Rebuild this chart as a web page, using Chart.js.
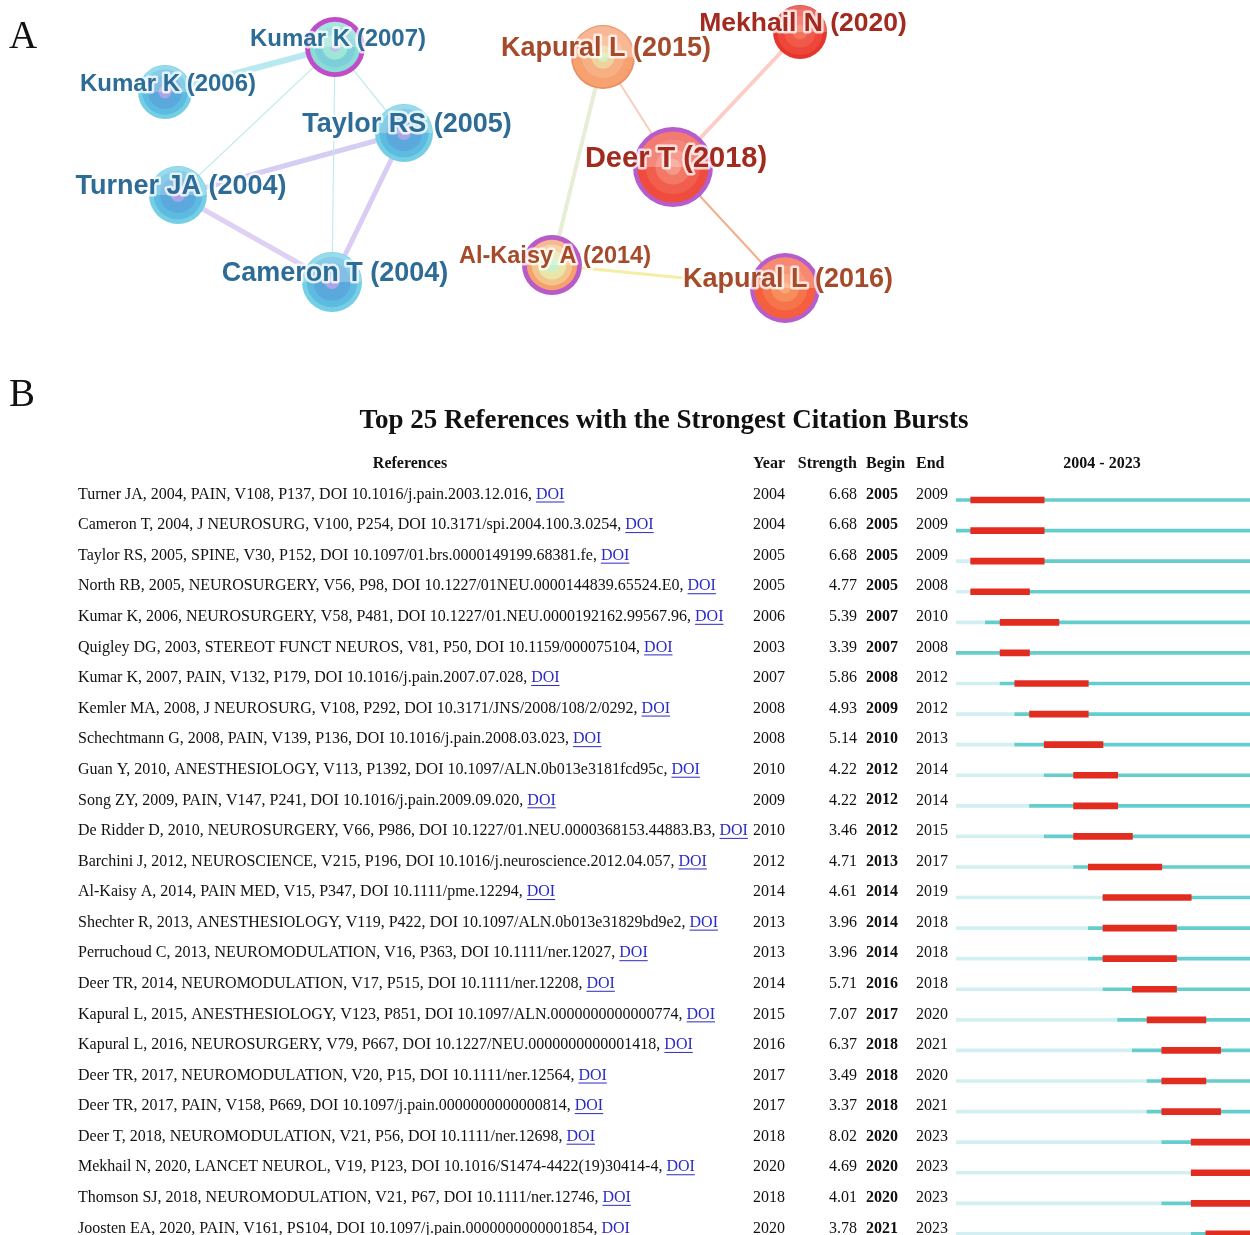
<!DOCTYPE html>
<html>
<head>
<meta charset="utf-8">
<script src="https://cdn.jsdelivr.net/npm/chart.js@4.4.1/dist/chart.umd.min.js"></script>
<style>
  html, body { margin: 0; padding: 0; background: #fff; }
  body { width: 1250px; height: 1235px; overflow: hidden; position: relative; }
  .panel-letter { position: absolute; font-family: "Liberation Serif", serif; font-size: 39px; color: #111; }
  #networkWrap { position: absolute; left: 0; top: 0; width: 1250px; height: 335px; }
  #burstWrap { position: absolute; left: 0; top: 0; width: 1250px; height: 1270px; }
</style>
</head>
<body>
<div id="burstWrap"><canvas id="burstChart"></canvas></div>
<div id="networkWrap"><canvas id="networkChart"></canvas></div>
<div class="panel-letter" style="left:9px; top:12px;">A</div>
<div class="panel-letter" style="left:9px; top:370px;">B</div>
<script>
// ---------- Panel A: co-citation network ----------
const nodeLabels = ['Kumar K (2007)', 'Kumar K (2006)', 'Taylor RS (2005)', 'Turner JA (2004)', 'Cameron T (2004)',
  'Kapural L (2015)', 'Mekhail N (2020)', 'Deer T (2018)', 'Al-Kaisy A (2014)', 'Kapural L (2016)'];
const nodeX = [335, 165, 404, 178, 332, 603, 800, 673, 552, 785];
const nodeY = [47, 92, 133, 195, 282, 57, 32, 167, 265, 288];
const nodeSize = [30, 27, 29, 29, 30, 32, 27, 40, 30, 35];
const edgeFrom = [0, 0, 0, 0, 2, 2, 3, 5, 5, 6, 7, 8];
const edgeTo = [1, 3, 4, 2, 3, 4, 4, 7, 8, 7, 9, 9];

// ---------- Panel B: citation bursts ----------
const refs = [
  'Turner JA, 2004, PAIN, V108, P137, DOI 10.1016/j.pain.2003.12.016',
  'Cameron T, 2004, J NEUROSURG, V100, P254, DOI 10.3171/spi.2004.100.3.0254',
  'Taylor RS, 2005, SPINE, V30, P152, DOI 10.1097/01.brs.0000149199.68381.fe',
  'North RB, 2005, NEUROSURGERY, V56, P98, DOI 10.1227/01NEU.0000144839.65524.E0',
  'Kumar K, 2006, NEUROSURGERY, V58, P481, DOI 10.1227/01.NEU.0000192162.99567.96',
  'Quigley DG, 2003, STEREOT FUNCT NEUROS, V81, P50, DOI 10.1159/000075104',
  'Kumar K, 2007, PAIN, V132, P179, DOI 10.1016/j.pain.2007.07.028',
  'Kemler MA, 2008, J NEUROSURG, V108, P292, DOI 10.3171/JNS/2008/108/2/0292',
  'Schechtmann G, 2008, PAIN, V139, P136, DOI 10.1016/j.pain.2008.03.023',
  'Guan Y, 2010, ANESTHESIOLOGY, V113, P1392, DOI 10.1097/ALN.0b013e3181fcd95c',
  'Song ZY, 2009, PAIN, V147, P241, DOI 10.1016/j.pain.2009.09.020',
  'De Ridder D, 2010, NEUROSURGERY, V66, P986, DOI 10.1227/01.NEU.0000368153.44883.B3',
  'Barchini J, 2012, NEUROSCIENCE, V215, P196, DOI 10.1016/j.neuroscience.2012.04.057',
  'Al-Kaisy A, 2014, PAIN MED, V15, P347, DOI 10.1111/pme.12294',
  'Shechter R, 2013, ANESTHESIOLOGY, V119, P422, DOI 10.1097/ALN.0b013e31829bd9e2',
  'Perruchoud C, 2013, NEUROMODULATION, V16, P363, DOI 10.1111/ner.12027',
  'Deer TR, 2014, NEUROMODULATION, V17, P515, DOI 10.1111/ner.12208',
  'Kapural L, 2015, ANESTHESIOLOGY, V123, P851, DOI 10.1097/ALN.0000000000000774',
  'Kapural L, 2016, NEUROSURGERY, V79, P667, DOI 10.1227/NEU.0000000000001418',
  'Deer TR, 2017, NEUROMODULATION, V20, P15, DOI 10.1111/ner.12564',
  'Deer TR, 2017, PAIN, V158, P669, DOI 10.1097/j.pain.0000000000000814',
  'Deer T, 2018, NEUROMODULATION, V21, P56, DOI 10.1111/ner.12698',
  'Mekhail N, 2020, LANCET NEUROL, V19, P123, DOI 10.1016/S1474-4422(19)30414-4',
  'Thomson SJ, 2018, NEUROMODULATION, V21, P67, DOI 10.1111/ner.12746',
  'Joosten EA, 2020, PAIN, V161, PS104, DOI 10.1097/j.pain.0000000000001854'
];
const years = [2004, 2004, 2005, 2005, 2006, 2003, 2007, 2008, 2008, 2010, 2009, 2010, 2012,
  2014, 2013, 2013, 2014, 2015, 2016, 2017, 2017, 2018, 2020, 2018, 2020];
const strength = [6.68, 6.68, 6.68, 4.77, 5.39, 3.39, 5.86, 4.93, 5.14, 4.22, 4.22, 3.46, 4.71,
  4.61, 3.96, 3.96, 5.71, 7.07, 6.37, 3.49, 3.37, 8.02, 4.69, 4.01, 3.78];
const begins = [2005, 2005, 2005, 2005, 2007, 2007, 2008, 2009, 2010, 2012, 2012, 2012, 2013,
  2014, 2014, 2014, 2016, 2017, 2018, 2018, 2018, 2020, 2020, 2020, 2021];
const ends = [2009, 2009, 2009, 2008, 2010, 2008, 2012, 2012, 2013, 2014, 2014, 2015, 2017,
  2019, 2018, 2018, 2018, 2020, 2021, 2020, 2021, 2023, 2023, 2023, 2023];
const firstYear = 2004;
const lastYear = 2023;

// node looks (outer ring -> centre)
const blueRings = { colors: ['#74cfe5', '#5dbae1', '#5aa8dc', '#a9a5e6'], stops: [1, 0.84, 0.62, 0.24] };
const nodeStyle = [
  { colors: ['#c04cc8', '#8adcd6', '#7ccfd9', '#9fe6d6', '#c3bbee'], stops: [1, 0.84, 0.68, 0.42, 0.16], text: '#2d6c96', ring: true },
  Object.assign({ text: '#2d6c96' }, blueRings),
  Object.assign({ text: '#2d6c96' }, blueRings),
  Object.assign({ text: '#2d6c96' }, blueRings),
  Object.assign({ text: '#2d6c96' }, blueRings),
  { colors: ['#e98d62', '#f7a070', '#f6b084', '#eed49c', '#d6eebc'], stops: [1, 0.95, 0.66, 0.36, 0.16], text: '#a54b2b' },
  { colors: ['#e5362c', '#ee463a', '#f15a48', '#f3735c'], stops: [1, 0.85, 0.58, 0.28], text: '#a22a1f' },
  { colors: ['#b65ccc', '#ef4c3e', '#f15e4e', '#f37866', '#f59886'], stops: [1, 0.89, 0.68, 0.44, 0.2], text: '#a22a1f', ring: true },
  { colors: ['#b85ac8', '#f6a06e', '#f3c48c', '#e9e6a8', '#c9f0c6'], stops: [1, 0.84, 0.68, 0.48, 0.24], text: '#a54b2b', ring: true },
  { colors: ['#b65ccc', '#f55f40', '#f6744c', '#f78c5c', '#f8a676'], stops: [1, 0.88, 0.64, 0.4, 0.16], text: '#a54b2b', ring: true }
];
const labelFont = [24, 24, 27, 27, 27, 27, 26.5, 29, 23.5, 27];
const edgeStyle = [
  ['rgba(160,226,236,0.75)', 6], ['#c4eaf0', 1.2], ['#c4eaf0', 1.2], ['#c4eaf0', 1.2],
  ['rgba(208,200,242,0.9)', 5], ['rgba(214,198,242,0.9)', 5], ['rgba(218,204,243,0.9)', 5],
  ['#f8cdbd', 2], ['#e6eed6', 4], ['#fbcdc4', 4], ['#f3ae88', 2], ['#f4efa2', 3]
];

const nodePoints = nodeLabels.map((label, i) => ({ x: nodeX[i], y: nodeY[i], r: nodeSize[i] }));

const edgeDatasets = edgeFrom.map((a, i) => ({
  type: 'line',
  data: [{ x: nodeX[a], y: nodeY[a] }, { x: nodeX[edgeTo[i]], y: nodeY[edgeTo[i]] }],
  borderColor: edgeStyle[i][0],
  borderWidth: edgeStyle[i][1],
  pointRadius: 0,
  showLine: true,
  clip: false,
  order: 2
}));

// draws the tree-ring look of the nodes and their labels
const nodePlugin = {
  id: 'nodeRings',
  afterDatasetsDraw(chart) {
    const ctx = chart.ctx;
    const meta = chart.getDatasetMeta(0);
    ctx.save();
    meta.data.forEach((el, i) => {
      const st = nodeStyle[i];
      const r = el.options.radius;
      st.colors.forEach((c, k) => {
        ctx.beginPath();
        ctx.arc(el.x, el.y, r * st.stops[k], 0, Math.PI * 2);
        ctx.fillStyle = c;
        ctx.fill();
      });
      // glossy upper half
      ctx.beginPath();
      ctx.arc(el.x, el.y, r * (st.ring ? st.stops[1] : 0.98), Math.PI, 0);
      ctx.closePath();
      ctx.fillStyle = 'rgba(255,255,255,0.26)';
      ctx.fill();
    });
    meta.data.forEach((el, i) => {
      ctx.font = 'bold ' + labelFont[i] + 'px "Liberation Sans", Arial, sans-serif';
      ctx.textAlign = 'center';
      ctx.textBaseline = 'middle';
      ctx.lineJoin = 'round';
      ctx.lineWidth = 5;
      ctx.strokeStyle = 'rgba(255,255,255,0.75)';
      ctx.strokeText(nodeLabels[i], el.x + 3, el.y - 8);
      ctx.fillStyle = nodeStyle[i].text;
      ctx.fillText(nodeLabels[i], el.x + 3, el.y - 8);
    });
    ctx.restore();
  }
};

new Chart(document.getElementById('networkChart'), {
  type: 'scatter',
  data: {
    datasets: [{
      type: 'bubble',
      data: nodePoints,
      backgroundColor: 'rgba(0,0,0,0)',
      borderWidth: 0,
      clip: false,
      order: 0
    }].concat(edgeDatasets)
  },
  options: {
    responsive: true,
    maintainAspectRatio: false,
    animation: false,
    layout: { padding: 0, autoPadding: false },
    plugins: { legend: { display: false }, tooltip: { enabled: false } },
    scales: {
      x: { type: 'linear', min: 0, max: 1250, display: false },
      y: { type: 'linear', min: 0, max: 335, reverse: true, display: false }
    }
  },
  plugins: [nodePlugin]
});

// ---------- burst table ----------
const serif = '"Liberation Serif", "Times New Roman", serif';

const tablePlugin = {
  id: 'burstTable',
  afterDraw(chart) {
    const ctx = chart.ctx;
    const yScale = chart.scales.y;
    ctx.save();
    ctx.fillStyle = '#111';
    ctx.textBaseline = 'middle';

    ctx.font = 'bold 27px ' + serif;
    ctx.textAlign = 'center';
    ctx.fillText('Top 25 References with the Strongest Citation Bursts', 664, 421);

    ctx.font = 'bold 16px ' + serif;
    ctx.fillText('References', 410, 464);
    ctx.fillText('2004 - 2023', 1102, 464);
    ctx.textAlign = 'left';
    ctx.fillText('Year', 753, 464);
    ctx.fillText('Begin', 866, 464);
    ctx.fillText('End', 916, 464);
    ctx.textAlign = 'right';
    ctx.fillText('Strength', 857, 464);

    refs.forEach((ref, i) => {
      const y = yScale.getPixelForValue(i) - 5.5;
      ctx.font = '16px ' + serif;
      ctx.fillStyle = '#111';
      ctx.textAlign = 'left';
      const head = ref + ', ';
      ctx.fillText(head, 78, y);
      const lx = 78 + ctx.measureText(head).width;
      const lw = ctx.measureText('DOI').width;
      ctx.fillStyle = '#2b2bc4';
      ctx.fillText('DOI', lx, y);
      ctx.fillRect(lx, y + 7, lw, 1);

      ctx.fillStyle = '#111';
      ctx.fillText(String(years[i]), 753, y);
      ctx.fillText(String(ends[i]), 916, y);
      ctx.textAlign = 'right';
      ctx.fillText(strength[i].toFixed(2), 857, y);
      ctx.textAlign = 'left';
      ctx.font = 'bold 16px ' + serif;
      ctx.fillText(String(begins[i]), 866, y);
    });
    ctx.restore();
  }
};

const rowGap = 30.58;
new Chart(document.getElementById('burstChart'), {
  type: 'bar',
  data: {
    labels: refs,
    datasets: [
      {
        label: 'Burst',
        data: begins.map((b, i) => [b, ends[i] + 1]),
        backgroundColor: '#e32c20',
        barThickness: 6,
        grouped: false
      },
      {
        label: 'Cited',
        data: years.map(y => [Math.max(y, firstYear), lastYear + 1]),
        backgroundColor: '#66cdcd',
        barThickness: 3,
        grouped: false
      },
      {
        label: 'Before publication',
        data: years.map(y => [firstYear, Math.max(y, firstYear)]),
        backgroundColor: '#d2f0f1',
        barThickness: 3,
        grouped: false
      }
    ]
  },
  options: {
    indexAxis: 'y',
    responsive: true,
    maintainAspectRatio: false,
    animation: false,
    layout: { padding: { left: 956, right: 0, top: 500 - rowGap / 2, bottom: 1270 - (500 - rowGap / 2) - rowGap * 25 } },
    plugins: { legend: { display: false }, tooltip: { enabled: false } },
    scales: {
      x: { type: 'linear', min: firstYear, max: lastYear + 1, display: false },
      y: { type: 'category', display: false }
    }
  },
  plugins: [tablePlugin]
});
</script>
</body>
</html>
